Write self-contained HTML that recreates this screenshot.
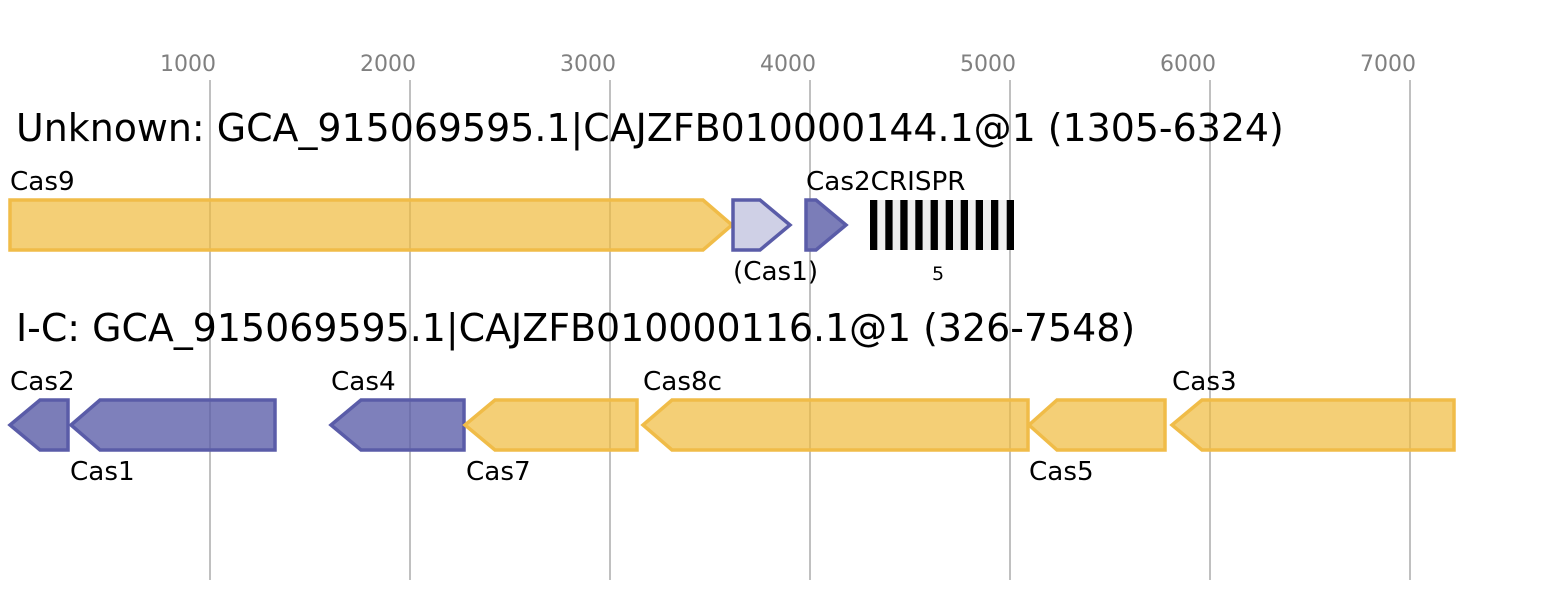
<!DOCTYPE html>
<html><head><meta charset="utf-8"><style>
html,body{margin:0;padding:0;background:#fff;}
svg{display:block;font-family:"DejaVu Sans","Liberation Sans",sans-serif;}
</style></head><body>
<svg width="1544" height="600" viewBox="0 0 1544 600" xmlns="http://www.w3.org/2000/svg">
<rect width="1544" height="600" fill="#fff"/>
<g stroke="#c0c0c0" stroke-width="2">
<line x1="210" y1="80" x2="210" y2="580"/>
<line x1="410" y1="80" x2="410" y2="580"/>
<line x1="610" y1="80" x2="610" y2="580"/>
<line x1="810" y1="80" x2="810" y2="580"/>
<line x1="1010" y1="80" x2="1010" y2="580"/>
<line x1="1210" y1="80" x2="1210" y2="580"/>
<line x1="1410" y1="80" x2="1410" y2="580"/>
</g>
<g fill="#808080" font-size="22" text-anchor="middle">
<text x="188" y="71">1000</text>
<text x="388" y="71">2000</text>
<text x="588" y="71">3000</text>
<text x="788" y="71">4000</text>
<text x="988" y="71">5000</text>
<text x="1188" y="71">6000</text>
<text x="1388" y="71">7000</text>
</g>
<g fill="#000" font-size="37.9">
<text x="16" y="141">Unknown: GCA_915069595.1|CAJZFB010000144.1@1 (1305-6324)</text>
<text x="16" y="341">I-C: GCA_915069595.1|CAJZFB010000116.1@1 (326-7548)</text>
</g>
<g stroke-width="3.5" stroke-linejoin="miter">
<polygon points="10,200 703,200 732,225 703,250 10,250" fill="rgba(240,186,60,0.7)" stroke="#f0bc48"/>
<polygon points="733,200 760,200 790,225 760,250 733,250" fill="#cfd0e6" stroke="#5a5ca8"/>
<polygon points="806,200 816,200 846,225 816,250 806,250" fill="#7b7db8" stroke="#5a5ca8"/>
<polygon points="68,400 40,400 10,425 40,450 68,450" fill="#7b7db8" stroke="#5a5ca8"/>
<polygon points="275,400 100,400 71,425 100,450 275,450" fill="rgba(90,92,168,0.78)" stroke="#5a5ca8"/>
<polygon points="464,400 361,400 331,425 361,450 464,450" fill="rgba(90,92,168,0.78)" stroke="#5a5ca8"/>
<polygon points="637,400 495,400 465,425 495,450 637,450" fill="rgba(240,186,60,0.7)" stroke="#f0bc48"/>
<polygon points="1028,400 672,400 643,425 672,450 1028,450" fill="rgba(240,186,60,0.7)" stroke="#f0bc48"/>
<polygon points="1165,400 1057,400 1029,425 1057,450 1165,450" fill="rgba(240,186,60,0.7)" stroke="#f0bc48"/>
<polygon points="1454,400 1202,400 1172,425 1202,450 1454,450" fill="rgba(240,186,60,0.7)" stroke="#f0bc48"/>
</g>
<rect x="870" y="200" width="144" height="50" fill="#f0f0f0"/>
<g fill="#000">
<rect x="870" y="200" width="7.3" height="50"/>
<rect x="885.3" y="200" width="7.3" height="50"/>
<rect x="900.3" y="200" width="7.3" height="50"/>
<rect x="915.3" y="200" width="7.3" height="50"/>
<rect x="930.6" y="200" width="7.3" height="50"/>
<rect x="945.7" y="200" width="7.3" height="50"/>
<rect x="960.7" y="200" width="7.3" height="50"/>
<rect x="975.7" y="200" width="7.3" height="50"/>
<rect x="991" y="200" width="7.3" height="50"/>
<rect x="1006.7" y="200" width="7.3" height="50"/>
</g>
<g fill="#000" font-size="26.2">
<text x="10" y="190">Cas9</text>
<text x="733" y="280">(Cas1)</text>
<text x="806" y="190">Cas2CRISPR</text>
<text x="10" y="390">Cas2</text>
<text x="70" y="480">Cas1</text>
<text x="331" y="390">Cas4</text>
<text x="466" y="480">Cas7</text>
<text x="643" y="390">Cas8c</text>
<text x="1029" y="480">Cas5</text>
<text x="1172" y="390">Cas3</text>
</g>
<text x="938" y="280" font-size="19" text-anchor="middle" fill="#000">5</text>
</svg>
</body></html>
